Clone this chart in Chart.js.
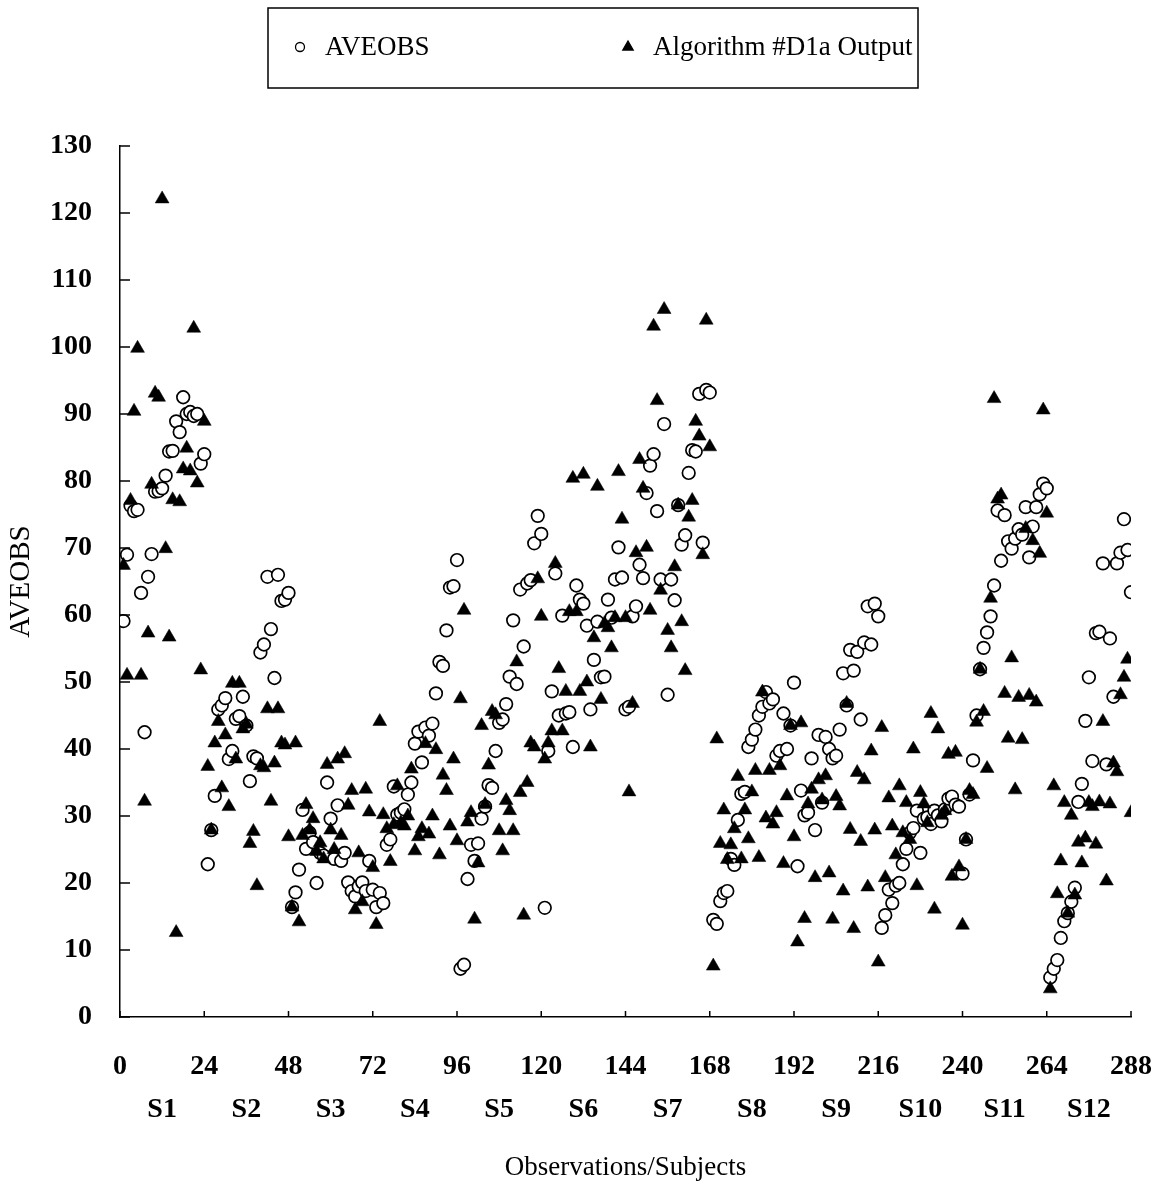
<!DOCTYPE html>
<html>
<head>
<meta charset="utf-8">
<script src="https://cdn.jsdelivr.net/npm/chart.js@4.4.1/dist/chart.umd.min.js"></script>
<style>
  html, body { margin: 0; padding: 0; background: #fff; }
</style>
</head>
<body>
<canvas id="myChart" width="1162" height="1184"></canvas>
<script>
// AVEOBS, one value per observation (24 per subject)
const aveobs = [
  59.1, 69, 76.3, 75.5, 75.7, 63.3, 42.5, 65.7, 69.1, 78.4, 78.5, 78.9, 80.8, 84.4, 84.5, 88.9, 87.3, 92.5, 90, 90.3, 89.7, 90, 82.6, 84,          // S1
  22.8, 27.9, 33.0, 45.9, 46.5, 47.6, 38.5, 39.7, 44.5, 44.9, 47.8, 43.5, 35.2, 38.9, 38.6, 54.4, 55.6, 65.7, 57.9, 50.6, 66.0, 62.1, 62.3, 63.3, // S2
  16.4, 18.6, 22.0, 30.9, 25.1, 27.5, 26.1, 20.0, 24.5, 24.1, 35.0, 29.6, 23.6, 31.6, 23.3, 24.5, 20.1, 18.8, 18.0, 19.5, 20.1, 18.8, 23.3, 19.0, // S3
  16.4, 18.5, 17.0, 25.7, 26.5, 34.4, 30.2, 30.5, 31.0, 33.2, 35.0, 40.8, 42.6, 38.0, 43.2, 42.0, 43.8, 48.3, 53.0, 52.4, 57.7, 64.1, 64.3, 68.2, // S4
  7.2, 7.8, 20.6, 25.7, 23.3, 25.9, 29.6, 31.4, 34.6, 34.2, 39.7, 43.9, 44.4, 46.7, 50.8, 59.2, 49.7, 63.8, 55.3, 64.7, 65.2, 70.7, 74.8, 72.1,   // S5
  16.3, 39.7, 48.6, 66.2, 45.0, 59.9, 45.3, 45.5, 40.3, 64.4, 62.3, 61.7, 58.4, 45.9, 53.3, 59.0, 50.7, 50.8, 62.3, 59.6, 65.3, 70.1, 65.6, 45.9, // S6
  46.3, 59.8, 61.3, 67.5, 65.5, 78.2, 82.3, 84.0, 75.5, 65.3, 88.5, 48.1, 65.3, 62.2, 76.4, 70.5, 71.9, 81.2, 84.6, 84.4, 93.0, 70.8, 93.6, 93.2, // S7
  14.5, 13.9, 17.3, 18.5, 18.8, 23.6, 22.7, 29.4, 33.3, 33.6, 40.3, 41.4, 42.9, 45.0, 46.3, 48.5, 46.8, 47.4, 39.0, 39.7, 45.3, 40.0, 43.5, 49.9, // S8
  22.5, 33.8, 30.1, 30.5, 38.6, 27.9, 42.1, 32.0, 41.8, 40.0, 38.6, 39.0, 42.9, 51.3, 46.5, 54.8, 51.7, 54.5, 44.4, 55.9, 61.3, 55.6, 61.7, 59.8, // S9
  13.3, 15.2, 19.0, 17.0, 19.6, 20.0, 22.8, 25.1, 27.5, 28.2, 30.8, 24.5, 29.6, 29.8, 28.8, 30.8, 30.1, 29.2, 31.0, 32.6, 32.9, 31.7, 31.4, 21.4, // S10
  26.5, 33.2, 38.3, 45.0, 51.9, 55.1, 57.4, 59.8, 64.4, 75.6, 68.1, 74.9, 71.0, 69.9, 71.4, 72.8, 72.0, 76.1, 68.6, 73.2, 76.1, 78.0, 79.6, 78.9, // S11
  5.9, 7.2, 8.5, 11.8, 14.3, 15.5, 17.2, 19.3, 32.1, 34.8, 44.2, 50.7, 38.2, 57.3, 57.5, 67.7, 37.7, 56.5, 47.8, 67.7, 69.3, 74.3, 69.7, 63.4     // S12
];

// Algorithm #D1a output
const algorithm = [
  67.4, 51, 77.1, 90.4, 99.8, 51, 32.2, 57.3, 79.5, 93.1, 92.5, 122.1, 69.9, 56.7, 77.2, 12.6, 76.9, 81.8, 84.9, 81.5, 102.8, 79.7, 51.8, 88.9,   // S1
  37.4, 27.9, 40.9, 44.1, 34.2, 42.1, 31.4, 49.8, 38.5, 49.8, 43.0, 43.7, 25.9, 27.7, 19.6, 37.5, 37.2, 46.0, 32.2, 37.9, 46.0, 40.9, 40.6, 26.9, // S2
  16.4, 40.9, 14.2, 27.1, 31.7, 27.9, 29.6, 24.7, 26.0, 23.6, 37.7, 27.9, 25.0, 38.5, 27.1, 39.3, 31.6, 33.8, 16.0, 24.5, 17.2, 34.0, 30.6, 22.3, // S3
  13.8, 44.1, 30.2, 28.1, 23.2, 28.7, 34.5, 29.0, 28.5, 30.0, 37.0, 24.8, 26.9, 28.1, 40.8, 27.3, 30.0, 39.9, 24.2, 36.1, 33.8, 28.5, 38.5, 26.3, // S4
  47.5, 60.7, 29.1, 30.5, 14.6, 23.0, 43.5, 31.7, 37.6, 45.6, 45.1, 27.8, 24.8, 32.3, 30.8, 27.8, 53.0, 33.5, 15.2, 35.0, 40.9, 40.3, 65.4, 59.8, // S5
  38.5, 40.9, 42.7, 67.7, 52.0, 42.7, 48.6, 60.5, 80.4, 60.5, 48.6, 81.0, 50.0, 40.3, 56.6, 79.2, 47.4, 58.7, 58.1, 55.1, 59.6, 81.4, 74.3, 59.6, // S6
  33.6, 46.8, 69.3, 83.2, 78.9, 70.1, 60.7, 103.1, 92.0, 63.7, 105.6, 57.7, 55.1, 67.2, 76.4, 59.0, 51.7, 74.6, 77.1, 88.9, 86.7, 69.0, 104.0, 85.1, // S7
  7.6, 41.5, 25.9, 30.9, 23.5, 25.7, 28.1, 35.9, 23.6, 30.9, 26.6, 33.6, 36.8, 23.8, 48.5, 29.7, 36.8, 28.8, 30.5, 37.5, 22.9, 33.0, 43.5, 26.9,  // S8
  11.2, 43.9, 14.7, 31.8, 34.0, 20.8, 35.4, 32.4, 36.0, 21.5, 14.6, 32.9, 31.5, 18.8, 46.8, 28.0, 13.2, 36.5, 26.2, 35.4, 19.4, 39.7, 27.9, 8.2,  // S9
  43.2, 20.8, 32.7, 28.5, 24.2, 34.5, 27.5, 32.0, 26.5, 40.0, 19.6, 33.5, 31.8, 29.0, 45.3, 16.1, 43.0, 30.1, 30.8, 39.2, 21.0, 39.5, 22.4, 13.7, // S10
  26.5, 33.8, 33.2, 44.0, 51.9, 45.6, 37.1, 62.5, 92.3, 77.3, 77.9, 48.3, 41.6, 53.6, 33.9, 47.7, 41.4, 72.9, 48.0, 71.1, 47.0, 69.2, 90.6, 75.2, // S11
  4.2, 34.5, 18.4, 23.3, 32.0, 15.5, 30.1, 18.2, 26.1, 23.0, 26.7, 32.0, 31.4, 25.8, 32.1, 44.1, 20.3, 31.8, 37.9, 36.6, 48.1, 50.7, 53.4, 30.5   // S12
];

const subjects = ['S1', 'S2', 'S3', 'S4', 'S5', 'S6', 'S7', 'S8', 'S9', 'S10', 'S11', 'S12'];
const obsPerSubject = 24;

// observation numbers 1..288
function toPoints(values) {
    return values.map((v, i) => ({ x: i + 1, y: v }));
}

Chart.defaults.font.family = '"Liberation Serif", "Times New Roman", serif';
Chart.defaults.color = '#000';

// tick marks point into the plot, like the original
const inwardTicks = {
    id: 'inwardTicks',
    afterDraw(chart) {
        const ctx = chart.ctx, xs = chart.scales.x, ys = chart.scales.y;
        ctx.save();
        ctx.strokeStyle = '#000';
        ctx.lineWidth = 1.5;
        ctx.beginPath();
        ys.ticks.forEach(t => {
            const py = ys.getPixelForValue(t.value);
            ctx.moveTo(xs.left, py);
            ctx.lineTo(xs.left + 10, py);
        });
        xs.ticks.forEach(t => {
            const px = xs.getPixelForValue(t.value);
            ctx.moveTo(px, ys.bottom);
            ctx.lineTo(px, ys.bottom - 6);
        });
        ctx.stroke();
        ctx.restore();
    }
};

// boxed legend at the top
const boxLegend = {
    id: 'boxLegend',
    afterDraw(chart) {
        const ctx = chart.ctx;
        ctx.save();
        ctx.strokeStyle = '#000';
        ctx.lineWidth = 1.5;
        ctx.strokeRect(268, 8, 650, 80);
        ctx.font = '27px "Liberation Serif"';
        ctx.textBaseline = 'middle';
        [[300, 0], [628, 1]].forEach(([px, i]) => {
            const ds = chart.data.datasets[i];
            ctx.fillStyle = ds.backgroundColor;
            ctx.strokeStyle = ds.borderColor;
            ctx.lineWidth = 1.3;
            Chart.helpers.drawPoint(ctx, {
                pointStyle: ds.pointStyle,
                radius: i === 0 ? 4.5 : 6,
                borderWidth: 1.3,
                rotation: 0
            }, px, 47);
            ctx.fillStyle = '#000';
            ctx.fillText(ds.label, px + 25, 48);
        });
        ctx.restore();
    }
};

// no automatic side padding for the bottom axes, the layout padding does it
function noSidePad(s) {
    s.paddingLeft = 0;
    s.paddingRight = 0;
}

let ctx = document.getElementById('myChart');

var myChart = new Chart(ctx, {
    type: 'scatter',
    data: {
        datasets: [
            {
                label: 'AVEOBS',
                data: toPoints(aveobs),
                pointStyle: 'circle',
                pointRadius: 6.3,
                pointBorderWidth: 1.7,
                backgroundColor: '#fff',
                borderColor: '#000',
                order: 1
            },
            {
                label: 'Algorithm #D1a Output',
                data: toPoints(algorithm),
                pointStyle: 'triangle',
                pointRadius: 8,
                pointBorderWidth: 0.5,
                backgroundColor: '#000',
                borderColor: '#000',
                order: 0
            }
        ]
    },
    options: {
        responsive: false,
        animation: false,
        devicePixelRatio: 1,
        layout: { padding: { top: 146, right: 31, left: 0, bottom: 0 } },
        plugins: {
            legend: { display: false },
            tooltip: { enabled: false }
        },
        scales: {
            x: {
                type: 'linear',
                position: 'bottom',
                min: 0,
                max: 288,
                weight: 1,
                ticks: { stepSize: 24, padding: 25, autoSkip: false, maxRotation: 0,
                         font: { size: 28, weight: 'bold' } },
                grid: { display: false },
                border: { display: true, color: '#000', width: 1.5 },
                afterFit: s => { s.height = 62; noSidePad(s); }
            },
            subj: {
                type: 'linear',
                position: 'bottom',
                min: 0,
                max: 288,
                weight: 2,
                afterBuildTicks: s => {
                    s.ticks = subjects.map((n, i) => ({ value: obsPerSubject * i + obsPerSubject / 2 }));
                },
                ticks: { padding: 6, autoSkip: false, maxRotation: 0,
                         font: { size: 28, weight: 'bold' },
                         callback: (v, i) => subjects[i] },
                grid: { display: false },
                border: { display: false },
                title: { display: true, text: 'Observations/Subjects', font: { size: 27 },
                         padding: { top: 0, bottom: 0 } },
                afterFit: s => { s.height = 105; noSidePad(s); }
            },
            y: {
                min: 0,
                max: 130,
                ticks: { stepSize: 10, padding: 20, font: { size: 28, weight: 'bold' } },
                grid: { display: false },
                border: { display: true, color: '#000', width: 1.5 },
                title: { display: true, text: 'AVEOBS', font: { size: 29 }, padding: { top: 4, bottom: 0 } },
                afterFit: s => { s.width = 120; }
            }
        }
    },
    plugins: [inwardTicks, boxLegend]
});
</script>
</body>
</html>
